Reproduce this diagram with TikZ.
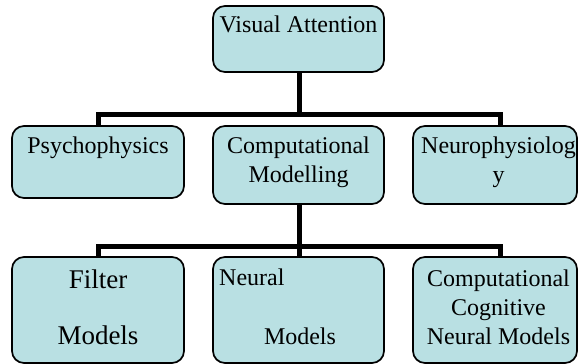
\documentclass[tikz,border=0pt]{standalone}
\usepackage{fontspec}
\setmainfont{Liberation Serif}
\definecolor{boxfill}{RGB}{185,224,227}
\begin{document}
\begin{tikzpicture}[x=1pt,y=-1pt,
  box/.style={draw=black,line width=1.7pt,fill=boxfill,rounded corners=12pt,inner sep=0pt},
  conn/.style={draw=black,line width=5pt,line join=miter},
  txt/.style={inner sep=0pt,font=\fontsize{24}{29}\selectfont,align=center,anchor=base},
  bigtxt/.style={inner sep=0pt,font=\fontsize{27}{56}\selectfont,align=center,anchor=base}]
\useasboundingbox (0,0) rectangle (579,364);
% boxes
\node[box,minimum width=171pt,minimum height=66pt] (top) at (298.5,39) {};
\node[box,minimum width=172pt,minimum height=72pt] (psy) at (98,162) {};
\node[box,minimum width=171pt,minimum height=78pt] (comp) at (298.5,165) {};
\node[box,minimum width=164pt,minimum height=78pt] (neuro) at (495,165) {};
\node[box,minimum width=172pt,minimum height=106pt] (filter) at (98,310) {};
\node[box,minimum width=171pt,minimum height=106pt] (neural) at (298.5,310) {};
\node[box,minimum width=164pt,minimum height=106pt] (ccn) at (495,310) {};
% junctions
\coordinate (j1) at (299,114);
\coordinate (r1) at (500,114);
\coordinate (j2) at (299,246);
\coordinate (r2) at (500,246);
% connectors
\draw[conn] (top.south -| j1) -- (j1);
\draw[conn] (psy.north) |- (r1) -- (r1 |- neuro.north);
\draw[conn] (comp.south -| j2) -- (j2);
\draw[conn] (filter.north) |- (r2) -- (r2 |- ccn.north);
\draw[conn] (j2) -- (j2 |- neural.north);
% texts (anchor=base sits on the last line's baseline)
\node[txt] (tTop) at (298.5,32) {Visual Attention};
\node[txt] (tPsy) at (98,153) {Psychophysics};
\node[txt] (tComp) at (298.5,182) {Computational\\Modelling};
\node[txt] (tNeuro) at (498.5,182) {Neurophysiolog\\y};
\node[bigtxt] (tFilter) at (98,344) {Filter\\Models};
\node[txt,anchor=base west] (tNeural1) at (219,285) {Neural};
\node[txt] (tNeural2) at (300,344) {Models};
\node[txt] (tCcn) at (498.5,344) {Computational\\Cognitive\\Neural Models};
\end{tikzpicture}
\end{document}
